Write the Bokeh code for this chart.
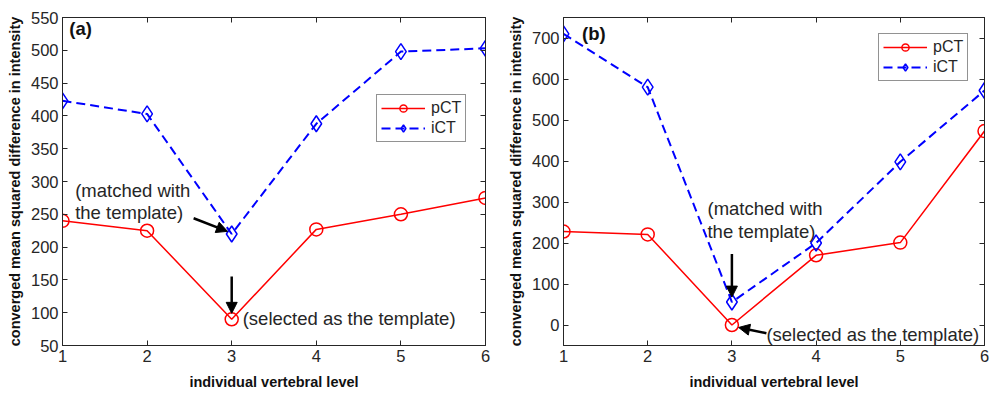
from bokeh.plotting import figure
from bokeh.models import (ColumnDataSource, FixedTicker, LinearAxis, Range1d, Label,
                          Arrow, NormalHead, Legend, LegendItem)
from bokeh.layouts import row
from bokeh.embed import file_html
from bokeh.resources import INLINE

levels = [1, 2, 3, 4, 5, 6]
a_pct = [240, 225, 90, 227, 250, 275]
a_ict = [423, 403, 220, 388, 498, 503]
b_pct = [228, 221, 0, 170, 201, 473]
b_ict = [710, 580, 56, 200, 398, 572]
a_yticks = [50, 100, 150, 200, 250, 300, 350, 400, 450, 500, 550]
b_yticks = [0, 100, 200, 300, 400, 500, 600, 700]

FONT = "Liberation Sans"
TXT = "#262626"


def make_panel(pct, ict, yr, yticks, tag, tag_xy, matched_xy, matched_arrow,
               selected_xy, selected_arrow, legend_loc, width, left_border, right_border):
    p = figure(width=width, height=395, output_backend="svg", toolbar_location=None,
               x_range=Range1d(1, 6), y_range=Range1d(*yr),
               min_border_left=left_border, min_border_right=right_border,
               min_border_top=17, min_border_bottom=50)
    p.grid.visible = False
    p.outline_line_color = "#262626"
    p.outline_line_width = 1
    p.background_fill_color = "white"
    p.border_fill_color = "white"

    for ax in (p.xaxis[0], p.yaxis[0]):
        ax.major_tick_in = 5
        ax.major_tick_out = 0
        ax.minor_tick_line_color = None
        ax.axis_line_color = "#262626"
        ax.major_tick_line_color = "#262626"
        ax.major_label_text_font = FONT
        ax.major_label_text_font_size = "16.5px"
        ax.major_label_text_color = TXT
        ax.axis_label_text_font = FONT
        ax.axis_label_text_font_size = "14.5px"
        ax.axis_label_text_font_style = "bold"
        ax.axis_label_text_color = "#111111"
    p.xaxis.ticker = FixedTicker(ticks=levels)
    p.yaxis.ticker = FixedTicker(ticks=yticks)
    p.xaxis.axis_label = "individual vertebral level"
    p.yaxis.axis_label = "converged mean squared difference in intensity"
    p.xaxis.major_label_standoff = 4
    p.yaxis.major_label_standoff = 4
    p.xaxis.axis_label_standoff = 9
    p.yaxis.axis_label_standoff = 5

    # mirrored tick marks (box on): use minor ticks so no labels are drawn
    for loc, tk in (("right", yticks), ("above", levels)):
        ax = LinearAxis(ticker=FixedTicker(ticks=[], minor_ticks=tk))
        ax.major_tick_line_color = None
        ax.minor_tick_in = 5
        ax.minor_tick_out = 0
        ax.axis_line_color = "#262626"
        ax.minor_tick_line_color = "#262626"
        ax.major_label_standoff = 0
        p.add_layout(ax, loc)

    src = ColumnDataSource(dict(x=levels, pct=pct, ict=ict))
    l1 = p.line("x", "pct", source=src, line_color="#FF0000", line_width=1.5)
    m1 = p.scatter("x", "pct", source=src, marker="circle", size=13, fill_color=None,
                   line_color="#FF0000", line_width=1.5)
    l2 = p.line("x", "ict", source=src, line_color="#0000FF", line_width=2, line_dash="9 5")
    m2 = p.scatter("x", "ict", source=src, marker="diamond", size=16, fill_color=None,
                   line_color="#0000FF", line_width=1.5)

    legend = Legend(items=[LegendItem(label="pCT", renderers=[l1, m1]),
                           LegendItem(label="iCT", renderers=[l2, m2])],
                    location=legend_loc, border_line_color="#262626", border_line_width=1,
                    label_text_font=FONT, label_text_font_size="16px", label_text_color=TXT,
                    glyph_width=44, glyph_height=18, label_height=18, spacing=2,
                    padding=4, margin=0, label_standoff=6, background_fill_alpha=1)
    p.add_layout(legend, "center")

    p.add_layout(Label(x=tag_xy[0], y=tag_xy[1], text=tag, text_font=FONT,
                       text_font_size="18.5px", text_font_style="bold", text_color="#111111",
                       text_baseline="middle", text_align="left"))

    for i, line in enumerate(["(matched with", "the template)"]):
        p.add_layout(Label(x=matched_xy[0], y=matched_xy[1][i], text=line, text_font=FONT,
                           text_font_size="18.5px", text_color=TXT, text_baseline="middle",
                           text_align="left"))
    p.add_layout(Label(x=selected_xy[0], y=selected_xy[1], text="(selected as the template)",
                       text_font=FONT, text_font_size="18.5px", text_color=TXT,
                       text_baseline="middle", text_align="left"))
    for (xs, ys, xe, ye) in (matched_arrow, selected_arrow):
        p.add_layout(Arrow(end=NormalHead(size=11, fill_color="black", line_color="black"),
                           x_start=xs, y_start=ys, x_end=xe, y_end=ye,
                           line_color="black", line_width=2.5))
    return p


pa = make_panel(a_pct, a_ict, (50, 550), a_yticks, "(a)", (1.08, 533),
                (1.15, (286, 253)), (2.55, 244, 2.95, 224),
                (3.13, 91), (3.0, 155, 3.0, 99),
                (314, 203), 495, 62, 10)
pb = make_panel(b_pct, b_ict, (-50, 750), b_yticks, "(b)", (1.22, 710),
                (2.71, (283, 227)), (3.0, 173, 3.0, 68),
                (3.41, -22), (3.41, -20, 3.08, -6),
                (315, 264), 496, 68, 7)

layout = row(pa, pb)
open("out.html", "w").write(file_html(layout, INLINE))
